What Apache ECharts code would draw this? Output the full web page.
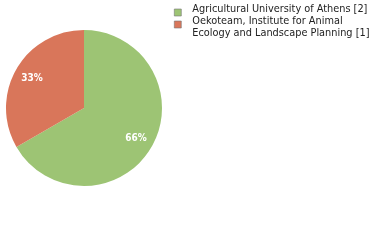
<!DOCTYPE html>
<html><head><meta charset="utf-8">
<script src="https://cdn.jsdelivr.net/npm/echarts@6/dist/echarts.min.js"></script>
<style>html,body{margin:0;padding:0;background:#fff}#c{width:380px;height:240px}</style>
</head><body><div id="c"></div>
<script>
var categories = ["Agricultural University of Athens", "Oekoteam, Institute for Animal\nEcology and Landscape Planning"];
var values = [2, 1];
var colors = ["#9dc474", "#d9765a"];

var chart = echarts.init(document.getElementById('c'), null, {renderer: 'canvas'});
var data = categories.map(function (c, i) {
  return {name: c, value: values[i], itemStyle: {color: colors[i]}};
});
function legendFor(i) {
  return {
    orient: 'vertical', left: 174, top: 3, padding: 0, itemWidth: 7, itemHeight: 7, itemGap: 0,
    icon: 'rect',
    itemStyle: {borderColor: '#777', borderWidth: 0.6},
    textStyle: {fontFamily: 'DejaVu Sans Condensed', fontSize: 10.85, color: '#222', lineHeight: 12,
      padding: [0, 0, 0, 6],
      rich: {s: {fontSize: 1, lineHeight: 7}}},
    formatter: function (n) {
      var k = categories.indexOf(n);
      var t = n + ' [' + values[k] + ']';
      return (n.indexOf('\n') >= 0 ? '\n' + t : t) + '\n{s| }';
    },
    data: [categories[i]]
  };
}
chart.setOption({
  animation: false,
  legend: [legendFor(0), legendFor(1)],
  series: [{
    type: 'pie', center: [84, 108], radius: [0, 78], startAngle: 90, clockwise: true,
    data: data, label: {show: false}, labelLine: {show: false},
    itemStyle: {borderWidth: 0}, emphasis: {disabled: true}
  }, {
    type: 'pie', center: [84, 108], radius: [36, 78], startAngle: 90, clockwise: true,
    data: data.map(function (d) { return {name: d.name, value: d.value, itemStyle: {color: 'rgba(0,0,0,0)'}}; }),
    label: {show: true, position: 'inside', color: '#fff', fontFamily: 'DejaVu Sans Condensed', fontWeight: 'bold', fontSize: 10,
      formatter: function (p) { return Math.floor(p.percent) + '%'; }},
    labelLine: {show: false}, silent: true, emphasis: {disabled: true}, legendHoverLink: false
  }]
});
</script></body></html>
